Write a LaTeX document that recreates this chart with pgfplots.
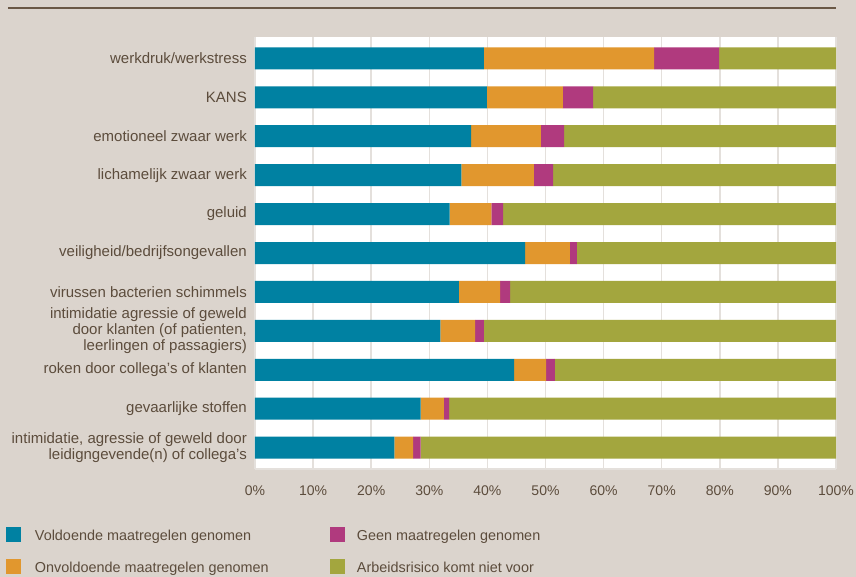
\documentclass[border=0pt]{standalone}
\usepackage{pgfplots}
\pgfplotsset{compat=1.18}
\usepackage{fontspec}
\setmainfont{Liberation Sans}
\definecolor{bgc}{RGB}{219,212,205}
\definecolor{txt}{RGB}{92,76,60}
\definecolor{linec}{RGB}{106,88,70}
\definecolor{gridc}{RGB}{228,224,220}
\definecolor{c1}{RGB}{0,129,162}
\definecolor{c2}{RGB}{225,151,46}
\definecolor{c3}{RGB}{176,58,126}
\definecolor{c4}{RGB}{163,166,62}
\begin{document}
\begin{tikzpicture}
\fill[bgc] (-255bp,-108bp) rectangle (601bp,469bp);
\draw[linec, line width=2bp] (-247bp,461bp) -- (581bp,461bp);
\begin{axis}[
  at={(0,0)}, anchor=south west,
  scale only axis, width=581bp, height=432bp,
  xbar stacked, bar width=22bp,
  xmin=0, xmax=100, ymin=-0.55, ymax=10.55, y dir=reverse,
  axis background/.style={fill=white},
  axis x line*=bottom, axis y line*=left,
  axis line style={draw=gridc, line width=1.5bp},
  xmajorgrids, grid style={draw=gridc, line width=1.5bp},
  major tick length=0pt,
  xtick={0,10,...,100},
  xticklabels={0\%,10\%,20\%,30\%,40\%,50\%,60\%,70\%,80\%,90\%,100\%},
  xticklabel style={font=\fontsize{14bp}{16bp}\selectfont, text=txt, inner sep=0pt, yshift=-17bp},
  ytick={0,...,10},
  yticklabels={{werkdruk/werkstress},{KANS},{emotioneel zwaar werk},{lichamelijk zwaar werk},{geluid},{veiligheid/bedrijfsongevallen},{virussen bacterien schimmels},{intimidatie agressie of geweld\\door klanten (of patienten,\\leerlingen of passagiers)},{roken door collega's of klanten},{gevaarlijke stoffen},{intimidatie, agressie of geweld door\\leidigngevende(n) of collega's}},
  yticklabel style={font=\fontsize{15bp}{16bp}\selectfont, text=txt, align=right, inner sep=0pt, xshift=-8bp},
  legend columns=2, transpose legend,
  legend cell align=left,
  legend style={at={(-0.4286,-0.134)}, anchor=north west, draw=none, fill=none,
    font=\fontsize{14.4bp}{16bp}\selectfont, text=txt, inner sep=0pt, outer sep=0pt,
    column sep=0pt, row sep=17.5bp, nodes={inner sep=0pt}},
]
\addplot[fill=c1, draw=none, legend image code/.code={\fill[c1] (0bp,-6bp) rectangle (15bp,9bp); \path (29bp,0bp);}] coordinates {
(39.4,0) (39.9,1) (37.2,2) (35.5,3) (33.5,4) (46.5,5) (35.1,6) (31.9,7) (44.6,8) (28.5,9) (24.0,10)};
\addlegendentry{\makebox[295bp][l]{Voldoende maatregelen genomen}}
\addplot[fill=c2, draw=none, legend image code/.code={\fill[c2] (0bp,-6bp) rectangle (15bp,9bp); \path (29bp,0bp);}] coordinates {
(29.3,0) (13.1,1) (12.0,2) (12.5,3) (7.2,4) (7.7,5) (7.1,6) (6.0,7) (5.5,8) (4.0,9) (3.2,10)};
\addlegendentry{\makebox[295bp][l]{Onvoldoende maatregelen genomen}}
\addplot[fill=c3, draw=none, legend image code/.code={\fill[c3] (0bp,-6bp) rectangle (15bp,9bp); \path (27bp,0bp);}] coordinates {
(11.2,0) (5.2,1) (4.0,2) (3.3,3) (2.0,4) (1.2,5) (1.7,6) (1.5,7) (1.5,8) (0.9,9) (1.3,10)};
\addlegendentry{Geen maatregelen genomen}
\addplot[fill=c4, draw=none, legend image code/.code={\fill[c4] (0bp,-6bp) rectangle (15bp,9bp); \path (27bp,0bp);}] coordinates {
(20.1,0) (41.8,1) (46.8,2) (48.7,3) (57.3,4) (44.6,5) (56.1,6) (60.6,7) (48.4,8) (66.6,9) (71.5,10)};
\addlegendentry{Arbeidsrisico komt niet voor}
\end{axis}
\pgfresetboundingbox
\path[use as bounding box] (-255bp,-108bp) rectangle (601bp,469bp);
\end{tikzpicture}
\end{document}
